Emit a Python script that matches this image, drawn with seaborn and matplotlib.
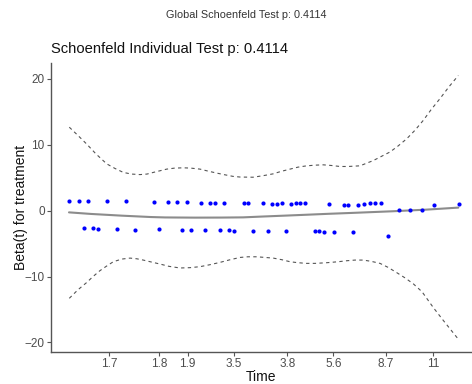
import matplotlib
matplotlib.use("Agg")
import matplotlib.pyplot as plt
import seaborn as sns
import pandas as pd

# --- data (x = transformed-time position, y = scaled Schoenfeld residual) ---
upper_x = [18, 28, 37, 56, 74.7, 102.7, 117.3, 126.3, 135.7,
           150, 159, 164, 173.3, 192.7, 197.3, 211.7, 220.7, 225.7, 230.7, 240, 244.7, 249.3, 254.3, 278.3,
           292.7, 297.3, 307.3, 313, 318.7, 324, 330.3,
           347.7, 359, 370.7, 382.7, 407.7]
upper_y = [1.52, 1.52, 1.52, 1.42, 1.42, 1.32, 1.32, 1.32, 1.32,
           1.22, 1.22, 1.22, 1.22, 1.11, 1.11, 1.11, 1.02, 1.02, 1.11, 1.02, 1.11, 1.11, 1.11, 1.02,
           0.87, 0.87, 0.81, 1.02, 1.11, 1.11, 1.11,
           0.05, 0.05, 0.15, 0.81, 1.02]
lower_x = [33, 42, 47, 65.7, 84, 107.7, 131.3, 140.3,
           154.3, 169, 178.3, 183.3, 202, 216.7, 235.3, 263.7, 268.3, 273.3,
           283, 302.3, 336.7]
lower_y = [-2.63, -2.63, -2.74, -2.74, -2.89, -2.84, -2.89, -2.99,
           -2.94, -2.94, -2.94, -3.09, -3.04, -3.14, -3.04, -3.04, -3.04, -3.19,
           -3.19, -3.24, -3.90]

fit_x = [18, 40, 70.7, 100, 114, 144, 170, 192, 212, 235, 255.7, 279, 300, 340.7, 375, 407.3]
fit_y = [-0.26, -0.5, -0.76, -0.97, -1.03, -1.06, -1.05, -1.02, -0.89, -0.75, -0.62, -0.47, -0.35, -0.10, 0.15, 0.46]

ci_up_x = [18.3, 27, 35.7, 45, 55.7, 64, 72.3, 80.5, 89, 96, 102.3, 109, 115.7, 123.5, 132.3, 140, 149,
           157, 165.7, 173.5, 182, 189, 202, 212, 222, 230, 239, 247, 255.7, 264, 272.3, 280.5, 289,
           297, 309, 322.3, 330, 339, 347, 355.7, 364, 372.3, 380, 389, 398, 407.3]
ci_up_y = [12.66, 11.4, 10.1, 8.6, 7.1, 6.4, 5.8, 5.55, 5.47, 5.55, 5.8, 6.05, 6.3, 6.45, 6.5, 6.45, 6.3,
           6.0, 5.7, 5.45, 5.2, 5.1, 5.07, 5.3, 5.58, 5.95, 6.3, 6.6, 6.8, 6.9, 6.95, 6.85, 6.7,
           6.7, 6.8, 7.6, 8.2, 8.9, 9.8, 10.9, 12.2, 13.7, 15.3, 17.0, 18.8, 20.5]
ci_lo_x = [18.3, 27, 35.7, 42, 49, 55.7, 62.3, 70.7, 79, 85.7, 92.3, 100.5, 109, 118, 129, 139, 149,
           159, 169, 179, 189, 197, 205.7, 214, 222.3, 231, 239, 247, 255.7, 264, 275.7, 287.3, 295.7,
           304, 312.3, 320.5, 329, 337, 345.7, 354, 362.3, 371, 382.3, 392, 407.3]
ci_lo_y = [-13.3, -12.0, -10.9, -10.0, -9.1, -8.4, -7.75, -7.35, -7.2, -7.3, -7.5, -7.8, -8.1, -8.45, -8.7, -8.65, -8.5,
           -8.2, -7.85, -7.45, -7.1, -7.0, -7.0, -7.1, -7.2, -7.45, -7.75, -7.9, -8.0, -8.0, -7.9, -7.75, -7.6,
           -7.5, -7.5, -7.7, -8.0, -8.6, -9.4, -10.2, -11.1, -12.3, -14.7, -16.6, -19.5]

tick_pos = [58.3, 108.3, 136.7, 183, 236.3, 282.3, 334.7, 382.3]
tick_labels = ["1.7", "1.8", "1.9", "3.5", "3.8", "5.6", "8.7", "11"]
y_ticks = [-20, -10, 0, 10, 20]

sns.set_theme(style="white")
plt.rcParams["font.family"] = ["Liberation Sans", "DejaVu Sans"]

fig = plt.figure(figsize=(4.72, 3.84), dpi=100)
ax = fig.add_axes([51 / 472, 32.3 / 384, (471 - 51) / 472, (351.7 - 63) / 384])

pts = pd.DataFrame({"x": upper_x + lower_x, "y": upper_y + lower_y})
sns.scatterplot(data=pts, x="x", y="y", ax=ax, color="#0000FF", s=9, linewidth=0, zorder=3)
sns.lineplot(x=fit_x, y=fit_y, ax=ax, color="#8C8C8C", linewidth=1.5, sort=False, zorder=2)
sns.lineplot(x=ci_up_x, y=ci_up_y, ax=ax, color="#555555", linewidth=0.8, sort=False,
             linestyle=(0, (3, 3)), zorder=2)
sns.lineplot(x=ci_lo_x, y=ci_lo_y, ax=ax, color="#555555", linewidth=0.8, sort=False,
             linestyle=(0, (3, 3)), zorder=2)

ax.set_xlim(0, 420)
ax.set_ylim(-21.4, 22.4)
ax.set_xticks(tick_pos)
ax.set_xticklabels(tick_labels)
ax.set_yticks(y_ticks)
ax.tick_params(axis="both", which="both", length=3, width=0.8, color="#555555",
               labelcolor="#4D4D4D", labelsize=8.5, direction="out", bottom=True, left=True, pad=1.5)

for s in ["top", "right"]:
    ax.spines[s].set_visible(False)
for s in ["left", "bottom"]:
    ax.spines[s].set_color("#555555")
    ax.spines[s].set_linewidth(1.0)

ax.set_xlabel("Time", fontsize=10, color="#111111", labelpad=0)
ax.set_ylabel("Beta(t) for treatment", fontsize=10, color="#111111", labelpad=-2.5)
ax.set_title("Schoenfeld Individual Test p: 0.4114", loc="left", fontsize=10.6, color="#111111", pad=7)
fig.text(246 / 472, 1 - 15 / 384, "Global Schoenfeld Test p: 0.4114", ha="center", va="center",
         fontsize=7.8, color="#333333")

fig.savefig("out.png", dpi=100)
